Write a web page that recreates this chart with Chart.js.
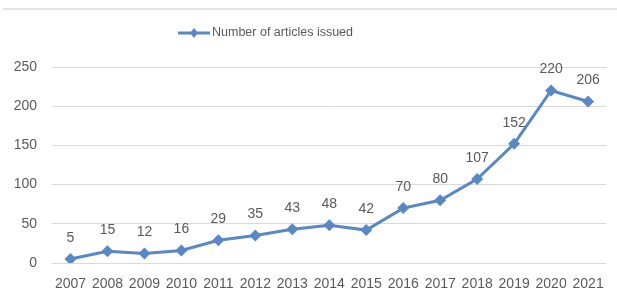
<!DOCTYPE html>
<html>
<head>
<meta charset="utf-8">
<script src="https://cdn.jsdelivr.net/npm/chart.js@4"></script>
<style>
  body { margin: 0; background: #fff; }
  #wrap { position: relative; width: 617px; height: 290px; }
  #topline { position: absolute; left: 3px; right: 0; top: 8px; height: 2px; background: #e3e3e3; }
  canvas { display: block; }
</style>
</head>
<body>
<div id="wrap">
  <div id="topline"></div>
  <canvas id="myChart" width="617" height="290"></canvas>
</div>
<script>
let years = ["2007", "2008", "2009", "2010", "2011", "2012", "2013", "2014", "2015", "2016", "2017", "2018", "2019", "2020", "2021"];
let articles = [5, 15, 12, 16, 29, 35, 43, 48, 42, 70, 80, 107, 152, 220, 206];
let seriesName = "Number of articles issued";

let lineColor = "#5A87C5";
let textColor = "#595959";

// labels above each point + legend drawn by hand
let labelsPlugin = {
    id: "labelsPlugin",
    afterDatasetsDraw(chart) {
        let ctx = chart.ctx;
        let meta = chart.getDatasetMeta(0);
        ctx.save();
        ctx.font = "14px 'Liberation Sans'";
        ctx.fillStyle = textColor;
        ctx.textAlign = "center";
        ctx.textBaseline = "middle";
        meta.data.forEach(function (pt, i) {
            ctx.fillText(String(articles[i]), pt.x, pt.y - 21);
        });

        // legend
        let ly = 33;
        ctx.strokeStyle = lineColor;
        ctx.lineWidth = 3;
        ctx.beginPath();
        ctx.moveTo(178, ly);
        ctx.lineTo(210, ly);
        ctx.stroke();
        ctx.fillStyle = lineColor;
        ctx.beginPath();
        ctx.moveTo(194, ly - 5);
        ctx.lineTo(198, ly);
        ctx.lineTo(194, ly + 5);
        ctx.lineTo(190, ly);
        ctx.closePath();
        ctx.fill();
        ctx.fillStyle = textColor;
        ctx.font = "12.5px 'Liberation Sans'";
        ctx.textAlign = "left";
        ctx.fillText(seriesName, 212, ly);
        ctx.restore();
    }
};

let canvas = document.getElementById("myChart");
let myChart = new Chart(canvas, {
    type: "line",
    data: {
        labels: years,
        datasets: [
            {
                label: seriesName,
                data: articles,
                borderColor: lineColor,
                backgroundColor: lineColor,
                borderWidth: 3,
                pointStyle: "rectRot",
                pointRadius: 6,
                pointBackgroundColor: lineColor,
                pointBorderWidth: 0,
                tension: 0,
            },
        ],
    },
    options: {
        responsive: false,
        animation: false,
        layout: { padding: { top: 67, right: 10, left: 0, bottom: 0 } },
        plugins: {
            legend: { display: false },
            tooltip: { enabled: false },
        },
        scales: {
            x: {
                offset: true,
                grid: { display: false, drawTicks: false },
                border: { display: false },
                ticks: {
                    color: textColor,
                    font: { family: "Liberation Sans", size: 14 },
                    padding: 13,
                    maxRotation: 0,
                    autoSkip: false,
                },
                afterFit(scale) { scale.height = 27; },
            },
            y: {
                min: 0,
                max: 250,
                grid: { color: "#d9d9d9", drawTicks: false, lineWidth: 1 },
                border: { display: false },
                ticks: {
                    stepSize: 50,
                    color: textColor,
                    font: { family: "Liberation Sans", size: 14 },
                    padding: 15,
                },
                afterFit(scale) { scale.width = 52; },
            },
        },
    },
    plugins: [labelsPlugin],
});
</script>
</body>
</html>
